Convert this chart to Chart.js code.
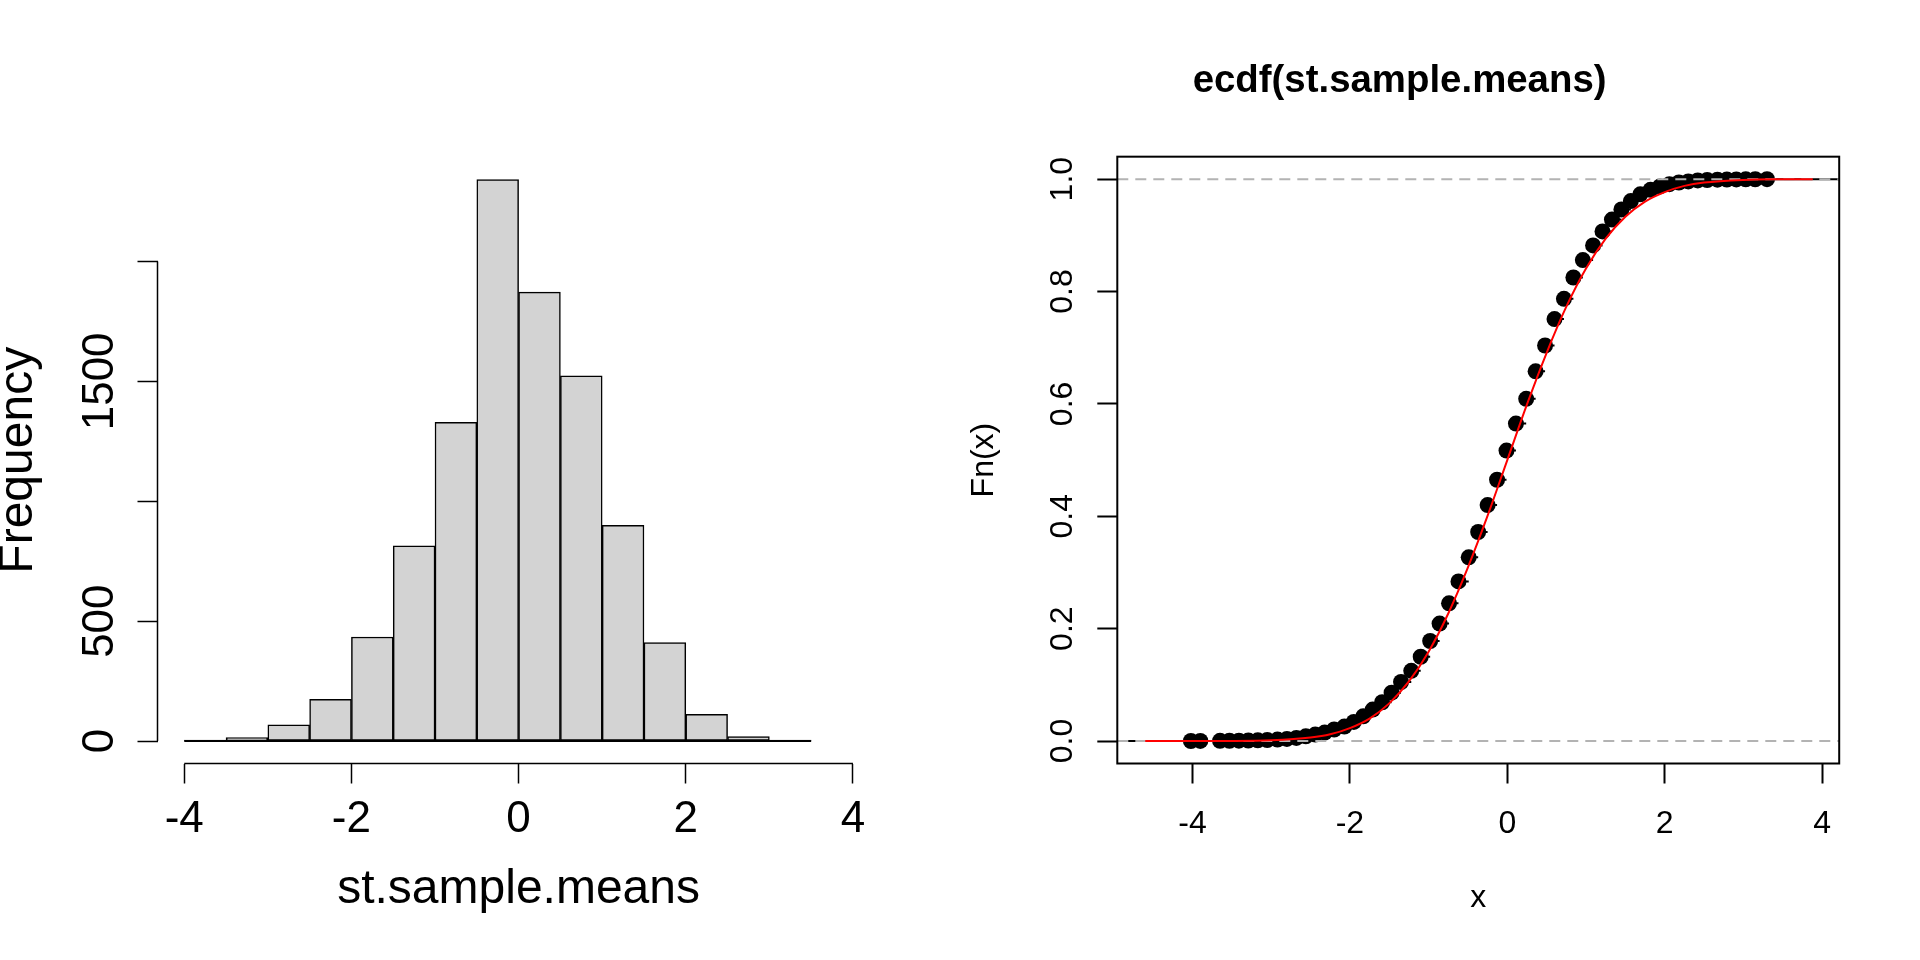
<!DOCTYPE html>
<html>
<head>
<meta charset="utf-8">
<title>st.sample.means</title>
<script src="https://cdn.jsdelivr.net/npm/chart.js@4.4.1/dist/chart.umd.min.js"></script>
<style>
  body { margin: 0; background: #fff; }
  #wrap { position: relative; width: 1920px; height: 960px; }
  canvas { position: absolute; top: 0; }
</style>
</head>
<body>
<div id="wrap">
  <canvas id="hist" width="960" height="960" style="left:0"></canvas>
  <canvas id="ecdf" width="960" height="960" style="left:960px"></canvas>
</div>
<script>
// histogram of st.sample.means
const histBreaks = [-4, -3.5, -3, -2.5, -2, -1.5, -1, -0.5, 0, 0.5, 1, 1.5, 2, 2.5, 3, 3.5];
const histCounts = [4, 14, 68, 174, 434, 814, 1329, 2342, 1872, 1523, 900, 411, 111, 19, 4];
const histXTicks = [-4, -2, 0, 2, 4];
const histXLabels = ["-4", "-2", "0", "2", "4"];
const histYTicks = [0, 500, 1000, 1500, 2000];
const histYLabels = ["0", "500", "", "1500", ""];

// ecdf points (x, Fn(x))
const ecdfX = [
  -4.02, -3.90, -3.65, -3.53, -3.41, -3.29, -3.17, -3.05, -2.92, -2.80,
  -2.68, -2.56, -2.44, -2.32, -2.20, -2.07, -1.95, -1.83, -1.71, -1.59,
  -1.47, -1.35, -1.22, -1.10, -0.98, -0.86, -0.74, -0.62, -0.49, -0.37,
  -0.25, -0.13, -0.01, 0.11, 0.24, 0.36, 0.48, 0.60, 0.72, 0.84,
  0.96, 1.09, 1.21, 1.33, 1.45, 1.57, 1.69, 1.82, 1.94, 2.06,
  2.18, 2.30, 2.42, 2.54, 2.67, 2.79, 2.91, 3.03, 3.15, 3.30,
];
const ecdfY = [
  0.0001, 0.0002, 0.0003, 0.0005, 0.0007, 0.0009, 0.0012, 0.0018, 0.0025, 0.0037,
  0.0055, 0.0084, 0.0115, 0.015, 0.0205, 0.0257, 0.034, 0.044, 0.056, 0.069,
  0.086, 0.105, 0.125, 0.15, 0.178, 0.209, 0.245, 0.284, 0.327, 0.372,
  0.42, 0.465, 0.517, 0.565, 0.609, 0.658, 0.704, 0.751, 0.787, 0.825,
  0.856, 0.882, 0.907, 0.928, 0.946, 0.961, 0.973, 0.981, 0.987, 0.991,
  0.994, 0.996, 0.9977, 0.9985, 0.999, 0.9993, 0.9995, 0.9997, 0.9998, 1.0,
];
const stepEnds = [-5.6, 4.9]; // where the step function runs off the plot

// red curve
const normX = [-4.6, -3.5, -3, -2.5, -2.25, -2, -1.75, -1.5, -1.25, -1, -0.75, -0.5, -0.25, 0,
  0.25, 0.5, 0.75, 1, 1.25, 1.5, 1.75, 2, 2.25, 2.5, 3, 3.5, 3.88];
const normY = [0, 0.0002, 0.0013, 0.0062, 0.012, 0.023, 0.04, 0.067, 0.106, 0.159, 0.227, 0.309, 0.401, 0.5,
  0.599, 0.691, 0.773, 0.841, 0.894, 0.933, 0.96, 0.977, 0.988, 0.994, 0.9987, 0.9998, 1.0];
const refLevels = [0, 1];

const ecdfXTicks = [-4, -2, 0, 2, 4];
const ecdfXLabels = ["-4", "-2", "0", "2", "4"];
const ecdfYTicks = [0, 0.2, 0.4, 0.6, 0.8, 1.0];
const ecdfYLabels = ["0.0", "0.2", "0.4", "0.6", "0.8", "1.0"];

const FONT = "'Liberation Sans', Arial, Helvetica, sans-serif";
Chart.defaults.font.family = FONT;
Chart.defaults.color = "#000";

// R style axes: line only from first to last tick, or a full box
const rAxes = {
  id: "rAxes",
  afterDraw(chart, args, opts) {
    const ctx = chart.ctx;
    const a = chart.chartArea;
    ctx.save();
    ctx.strokeStyle = "#000";
    ctx.lineWidth = opts.lineWidth;
    if (opts.box) {
      ctx.strokeRect(a.left, a.top, a.right - a.left, a.bottom - a.top);
    } else {
      const xs = chart.scales.x, ys = chart.scales.y;
      const xt = xs.ticks, yt = ys.ticks;
      ctx.beginPath();
      ctx.moveTo(xs.getPixelForValue(xt[0].value), a.bottom);
      ctx.lineTo(xs.getPixelForValue(xt[xt.length - 1].value), a.bottom);
      ctx.moveTo(a.left, ys.getPixelForValue(yt[0].value));
      ctx.lineTo(a.left, ys.getPixelForValue(yt[yt.length - 1].value));
      ctx.stroke();
    }
    ctx.restore();
  },
};

function fixWidth(w) {
  return (s) => { s.width = w; s.paddingTop = 0; s.paddingBottom = 0; };
}
function fixHeight(h) {
  return (s) => { s.height = h; s.paddingLeft = 0; s.paddingRight = 0; };
}
function setTicks(values) {
  return (s) => { s.ticks = values.map((v) => ({ value: v })); };
}

// ---------- histogram ----------
const histData = histCounts.map((c, i) => ({
  x: (histBreaks[i] + histBreaks[i + 1]) / 2,
  y: c,
}));

new Chart(document.getElementById("hist"), {
  type: "bar",
  data: {
    datasets: [
      {
        // bottoms of the rectangles
        type: "line",
        data: [{ x: histBreaks[0], y: 0 }, { x: histBreaks[histBreaks.length - 1], y: 0 }],
        borderColor: "#000",
        borderWidth: 2,
        pointRadius: 0,
        order: 0,
      },
      {
        data: histData,
        backgroundColor: "#D3D3D3",
        borderColor: "#000",
        borderWidth: 1.5,
        borderSkipped: false,
        barPercentage: 1,
        categoryPercentage: 1,
        order: 1,
      },
    ],
  },
  options: {
    responsive: false,
    animation: false,
    layout: { padding: { top: 157, right: 80.3, left: 0, bottom: 0 } },
    plugins: {
      legend: { display: false },
      tooltip: { enabled: false },
      rAxes: { lineWidth: 1.5, box: false },
    },
    scales: {
      x: {
        type: "linear",
        offset: false,
        min: -4.32,
        max: 4.32,
        afterBuildTicks: setTicks(histXTicks),
        afterFit: fixHeight(196.5),
        border: { display: false },
        grid: { offset: false, drawOnChartArea: false, drawTicks: true, tickLength: 20, tickColor: "#000", tickWidth: 1.5 },
        ticks: {
          autoSkip: false, minRotation: 0, maxRotation: 0, padding: 10,
          font: { size: 44 },
          callback: (v, i) => histXLabels[i],
        },
        title: { display: true, text: "st.sample.means", font: { size: 48 }, padding: { top: 0, bottom: 41 } },
      },
      y: {
        min: -93.7,
        max: 2435.7,
        afterBuildTicks: setTicks(histYTicks),
        afterFit: fixWidth(157.5),
        border: { display: false },
        grid: { drawOnChartArea: false, drawTicks: true, tickLength: 20, tickColor: "#000", tickWidth: 1.5 },
        ticks: {
          autoSkip: false, minRotation: 90, maxRotation: 90, crossAlign: "center", padding: -12,
          font: { size: 44 },
          callback: (v, i) => histYLabels[i],
        },
        title: { display: true, text: "Frequency", font: { size: 48 }, padding: { top: -10, bottom: 0 } },
      },
    },
  },
  plugins: [rAxes],
});

// ---------- ecdf ----------
const ecdfXRange = [-4.955, 4.217];
const ecdfYRange = [-0.04, 1.04];

const ecdfPoints = ecdfX.map((x, i) => ({ x: x, y: ecdfY[i] }));
const stepSegs = [
  { x: stepEnds[0], y: 0 }, { x: ecdfX[0], y: 0 }, { x: ecdfX[0], y: null },
];
ecdfX.forEach((x, i) => {
  const next = i < ecdfX.length - 1 ? ecdfX[i + 1] : stepEnds[1];
  stepSegs.push({ x: x, y: ecdfY[i] }, { x: next, y: ecdfY[i] }, { x: next, y: null });
});
const normPts = normX.map((x, i) => ({ x: x, y: normY[i] }));

new Chart(document.getElementById("ecdf"), {
  type: "scatter",
  data: {
    datasets: [
      {
        data: normPts,
        showLine: true,
        borderColor: "#FF0000",
        borderWidth: 2,
        pointRadius: 0,
        cubicInterpolationMode: "monotone",
        order: 0,
      },
      ...refLevels.map((lv) => ({
        data: [{ x: ecdfXRange[0], y: lv }, { x: ecdfXRange[1], y: lv }],
        showLine: true,
        borderColor: "#B3B3B3",
        borderWidth: 2,
        borderDash: [11, 7],
        pointRadius: 0,
        order: 1,
      })),
      {
        data: stepSegs,
        showLine: true,
        spanGaps: false,
        borderColor: "#000",
        borderWidth: 2,
        pointRadius: 0,
        order: 2,
      },
      {
        data: ecdfPoints,
        showLine: false,
        pointRadius: 8,
        pointBackgroundColor: "#000",
        pointBorderWidth: 0,
        order: 2,
      },
    ],
  },
  options: {
    responsive: false,
    animation: false,
    layout: { padding: { top: 0, right: 80.8, left: 0, bottom: 0 } },
    plugins: {
      legend: { display: false },
      tooltip: { enabled: false },
      title: {
        display: true,
        text: "ecdf(st.sample.means)",
        color: "#000",
        font: { size: 38.4, weight: "bold" },
        padding: { top: 58, bottom: 52.6 },
      },
      rAxes: { lineWidth: 2, box: true },
    },
    scales: {
      x: {
        type: "linear",
        min: ecdfXRange[0],
        max: ecdfXRange[1],
        afterBuildTicks: setTicks(ecdfXTicks),
        afterFit: fixHeight(196.5),
        border: { display: false },
        grid: { drawOnChartArea: false, drawTicks: true, tickLength: 20, tickColor: "#000", tickWidth: 2 },
        ticks: {
          autoSkip: false, minRotation: 0, maxRotation: 0, padding: 21,
          font: { size: 32 },
          callback: (v, i) => ecdfXLabels[i],
        },
        title: { display: true, text: "x", font: { size: 32 }, padding: { top: 0, bottom: 43 } },
      },
      y: {
        type: "linear",
        min: ecdfYRange[0],
        max: ecdfYRange[1],
        afterBuildTicks: setTicks(ecdfYTicks),
        afterFit: fixWidth(157.3),
        border: { display: false },
        grid: { drawOnChartArea: false, drawTicks: true, tickLength: 20, tickColor: "#000", tickWidth: 2 },
        ticks: {
          autoSkip: false, minRotation: 90, maxRotation: 90, crossAlign: "center", padding: 12,
          font: { size: 32 },
          callback: (v, i) => ecdfYLabels[i],
        },
        title: { display: true, text: "Fn(x)", font: { size: 32 }, padding: { top: 5, bottom: 0 } },
      },
    },
  },
  plugins: [rAxes],
});
</script>
</body>
</html>
